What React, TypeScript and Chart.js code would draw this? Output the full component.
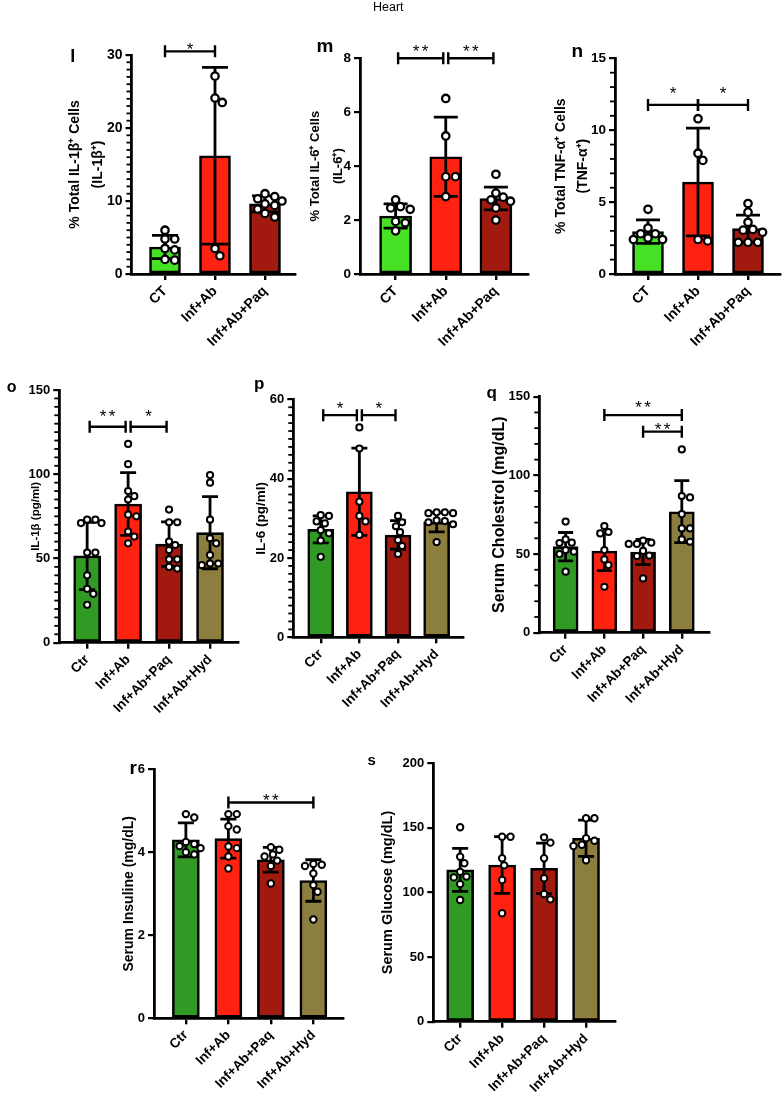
import React, { useEffect, useRef } from "react";
import { Chart, registerables } from "chart.js";

Chart.register(...registerables);

const FONT = '"Liberation Sans", Arial, Helvetica, sans-serif';
Chart.defaults.color = "#000";
Chart.defaults.font.family = FONT;

// Group names
const groupsCT = ["CT", "Inf+Ab", "Inf+Ab+Paq"];
const groupsCtr = ["Ctr", "Inf+Ab", "Inf+Ab+Paq", "Inf+Ab+Hyd"];

// Bar fills
const LIGHT_GREEN = "#47e226";
const GREEN = "#319a25";
const RED = "#ff2211";
const DARK_RED = "#a1190f";
const OLIVE = "#8b7e3f";

// l — % IL-1β+ cells
const il1bCellMean = [3.7, 16.2, 9.6];
const il1bCellSd = [1.6, 12.1, 1.1];
const il1bCellPoints = [
  [6.0, 4.8, 4.8, 3.5, 3.3, 1.9, 2.0],
  [27.1, 23.5, 24.1, 2.5, 3.5],
  [11.0, 10.6, 10.3, 10.0, 9.6, 9.4, 8.9, 8.3, 7.8],
];

// m — % IL-6+ cells
const il6CellMean = [2.15, 4.35, 2.8];
const il6CellSd = [0.45, 1.47, 0.42];
const il6CellPoints = [
  [2.75, 2.45, 2.4, 2.5, 1.95, 1.9, 1.6],
  [6.51, 5.12, 3.61, 3.61, 2.87],
  [3.7, 3.0, 2.85, 2.75, 2.7, 2.45, 2.0],
];

// n — % TNF-α+ cells
const tnfCellMean = [2.95, 6.4, 3.15];
const tnfCellSd = [0.82, 3.75, 0.95];
const tnfCellPoints = [
  [4.5, 3.2, 2.8, 2.8, 2.5, 2.4, 2.4],
  [10.8, 7.9, 8.4, 2.3, 2.4],
  [4.9, 4.3, 3.6, 3.1, 3.05, 2.9, 2.2, 2.2, 2.2],
];

// o — IL-1β (pg/ml)
const il1bMean = [51.5, 82.3, 58.5, 65.3];
const il1bSd = [20, 18.6, 13.2, 21.4];
const il1bPoints = [
  [71, 73, 73, 71, 53.5, 53.5, 40, 32, 29, 22.5],
  [118, 106, 90, 87, 85, 76, 75, 66, 63, 59],
  [79, 71.5, 71.5, 60, 58, 55, 49.5, 49.5, 45, 44],
  [99.5, 95, 73, 62, 59, 52, 47, 47, 46],
];

// p — IL-6 (pg/ml)
const il6Mean = [27.2, 36.7, 25.8, 29.0];
const il6Sd = [3.4, 11, 3.6, 2.4];
const il6Points = [
  [30.8, 30.6, 29.2, 28.7, 27, 26.2, 24.4, 20.3],
  [52.9, 47.6, 34.2, 30.6, 29.2, 25.8],
  [30.6, 29, 28, 26.5, 24.5, 23, 21],
  [31.5, 31.5, 31.3, 31.3, 29.5, 29.3, 29, 28.5, 24],
];

// q — serum cholesterol (mg/dL)
const cholMean = [54.7, 51.9, 51.3, 76.9];
const cholSd = [9, 12.4, 8, 19.7];
const cholPoints = [
  [70.6, 59.3, 57, 57.2, 52.5, 51.5, 50, 38.8],
  [67.8, 64, 63.1, 52.5, 46.6, 43, 29.2],
  [58.5, 57.2, 56.4, 56.4, 52, 49, 48.7, 34.5],
  [116.5, 86.9, 86, 75.4, 66.3, 66.3, 57.8, 59.3],
];

// r — serum insulin (mg/dL)
const insMean = [4.3, 4.33, 3.82, 3.32];
const insSd = [0.41, 0.47, 0.3, 0.5];
const insPoints = [
  [4.92, 4.84, 4.25, 4.2, 4.15, 4.1, 4.0, 3.95],
  [4.92, 4.92, 4.63, 4.55, 4.1, 4.14, 3.9, 3.61],
  [4.12, 4.06, 3.95, 3.9, 3.8, 3.67, 3.25],
  [3.72, 3.7, 3.67, 3.49, 3.21, 3.05, 2.38],
];

// s — serum glucose (mg/dL)
const gluMean = [117.5, 121.3, 118.7, 142];
const gluSd = [16.7, 21.9, 19.5, 14];
const gluPoints = [
  [150.5, 127.7, 122.6, 116, 112.3, 111.7, 106.5, 94.2],
  [143.2, 143.2, 126.5, 121, 109.7, 83.9],
  [142.7, 138.6, 126.5, 111, 98.8, 94.7],
  [157.5, 157.5, 142, 140, 137, 136, 125],
];

type Bracket = { from: number; to: number; at: number; text: string; lift: number; gap?: boolean };

interface PanelSpec {
  box: [number, number, number, number];
  axisX: number;
  topY: number;
  zeroY: number;
  rightX: number;
  xMin: number;
  xMax: number;
  yMax: number;
  major: number;
  minor: number | null;
  cats: string[];
  colors: string[];
  means: number[];
  sds: number[];
  points: number[][];
  brackets: Bracket[];
  title: string[];
  titleSize: number;
  titleX: number;
  titleGap: number;
  tickSize: number;
  labelSize: number;
  barWidth: number;
  capWidth: number;
  dotR: number;
  dotLw: number;
}

const colors3 = [LIGHT_GREEN, RED, DARK_RED];
const colors4 = [GREEN, RED, DARK_RED, OLIVE];

const panels: PanelSpec[] = [
  {
    box: [40, 30, 260, 340], axisX: 131.5, topY: 55, zeroY: 274, rightX: 295,
    xMin: -0.67, xMax: 2.6, yMax: 30, major: 10, minor: 1,
    cats: groupsCT, colors: colors3, means: il1bCellMean, sds: il1bCellSd, points: il1bCellPoints,
    brackets: [{ from: 0, to: 1, at: 30.5, text: "*", lift: 6 }],
    title: ["% Total IL-1β⁺ Cells", "(IL-1β⁺)"], titleSize: 14, titleX: 75, titleGap: 23,
    tickSize: 14, labelSize: 14, barWidth: 31, capWidth: 26, dotR: 3.7, dotLw: 2.3,
  },
  {
    box: [298, 30, 237, 340], axisX: 360, topY: 58.3, zeroY: 274, rightX: 528,
    xMin: -0.71, xMax: 2.64, yMax: 8, major: 2, minor: null,
    cats: groupsCT, colors: colors3, means: il6CellMean, sds: il6CellSd, points: il6CellPoints,
    brackets: [
      { from: 0, to: 1, at: 8, text: "**", lift: 11, gap: true },
      { from: 1, to: 2, at: 8, text: "**", lift: 11, gap: true },
    ],
    title: ["% Total IL-6⁺ Cells", "(IL-6⁺)"], titleSize: 13, titleX: 315.7, titleGap: 23,
    tickSize: 13.5, labelSize: 14, barWidth: 32, capWidth: 24, dotR: 3.7, dotLw: 2.3,
  },
  {
    box: [540, 30, 243, 340], axisX: 615, topY: 58.3, zeroY: 274, rightX: 780,
    xMin: -0.66, xMax: 2.64, yMax: 15, major: 5, minor: 1,
    cats: groupsCT, colors: colors3, means: tnfCellMean, sds: tnfCellSd, points: tnfCellPoints,
    brackets: [
      { from: 0, to: 1, at: 11.76, text: "*", lift: 16 },
      { from: 1, to: 2, at: 11.76, text: "*", lift: 16 },
    ],
    title: ["% Total TNF-α⁺ Cells", "(TNF-α⁺)"], titleSize: 14, titleX: 560.7, titleGap: 22,
    tickSize: 13.5, labelSize: 14, barWidth: 31, capWidth: 24, dotR: 3.7, dotLw: 2.3,
  },
  {
    box: [15, 370, 230, 390], axisX: 59.3, topY: 390, zeroY: 642.7, rightX: 238.3,
    xMin: -0.68, xMax: 3.69, yMax: 150, major: 50, minor: 5,
    cats: groupsCtr, colors: colors4, means: il1bMean, sds: il1bSd, points: il1bPoints,
    brackets: [
      { from: 0, to: 1, at: 128.2, text: "**", lift: 15, gap: true },
      { from: 1, to: 2, at: 128.2, text: "*", lift: 15, gap: true },
    ],
    title: ["IL-1β (pg/ml)"], titleSize: 11.5, titleX: 35.5, titleGap: 14,
    tickSize: 13, labelSize: 13.5, barWidth: 27, capWidth: 16, dotR: 3.1, dotLw: 2,
  },
  {
    box: [245, 370, 225, 390], axisX: 293.3, topY: 399.3, zeroY: 637.3, rightX: 463.3,
    xMin: -0.71, xMax: 3.69, yMax: 60, major: 20, minor: 2,
    cats: groupsCtr, colors: colors4, means: il6Mean, sds: il6Sd, points: il6Points,
    brackets: [
      { from: 0, to: 1, at: 56, text: "*", lift: 11, gap: true },
      { from: 1, to: 2, at: 56, text: "*", lift: 11, gap: true },
    ],
    title: ["IL-6 (pg/ml)"], titleSize: 13.5, titleX: 261.7, titleGap: 16,
    tickSize: 13, labelSize: 13.5, barWidth: 26, capWidth: 16, dotR: 3.1, dotLw: 2,
  },
  {
    box: [475, 370, 245, 390], axisX: 539.3, topY: 396.7, zeroY: 632.7, rightX: 709.3,
    xMin: -0.68, xMax: 3.71, yMax: 150, major: 50, minor: 10,
    cats: groupsCtr, colors: colors4, means: cholMean, sds: cholSd, points: cholPoints,
    brackets: [
      { from: 1, to: 3, at: 138.3, text: "**", lift: 12 },
      { from: 2, to: 3, at: 127.8, text: "**", lift: 6 },
    ],
    title: ["Serum Cholestrol (mg/dL)"], titleSize: 16, titleX: 499.3, titleGap: 19,
    tickSize: 13, labelSize: 13.5, barWidth: 25, capWidth: 15, dotR: 3.1, dotLw: 2,
  },
  {
    box: [100, 740, 250, 360], axisX: 154, topY: 769.3, zeroY: 1018.3, rightX: 342.7,
    xMin: -0.75, xMax: 3.69, yMax: 6, major: 2, minor: null,
    cats: groupsCtr, colors: colors4, means: insMean, sds: insSd, points: insPoints,
    brackets: [{ from: 1, to: 3, at: 5.2, text: "**", lift: 6 }],
    title: ["Serum Insuline (mg/dL)"], titleSize: 14, titleX: 129.3, titleGap: 17,
    tickSize: 13, labelSize: 13.5, barWidth: 27, capWidth: 16, dotR: 3.2, dotLw: 2,
  },
  {
    box: [355, 740, 265, 360], axisX: 433.3, topY: 763.3, zeroY: 1021.7, rightX: 615,
    xMin: -0.64, xMax: 3.69, yMax: 200, major: 50, minor: null,
    cats: groupsCtr, colors: colors4, means: gluMean, sds: gluSd, points: gluPoints,
    brackets: [],
    title: ["Serum Glucose (mg/dL)"], titleSize: 14.5, titleX: 388.3, titleGap: 17.4,
    tickSize: 13, labelSize: 13.5, barWidth: 27, capWidth: 16, dotR: 3.2, dotLw: 2,
  },
];

// Panel letters: [text, x, baseline, size]
const letters: [string, number, number, number][] = [
  ["l", 72.7, 61.7, 18],
  ["m", 325, 51.7, 19],
  ["n", 577.3, 57.3, 19],
  ["o", 11.7, 392.3, 16],
  ["p", 259.3, 389.3, 17],
  ["q", 491.7, 398.3, 17],
  ["r", 133.3, 774.3, 19],
  ["s", 371.7, 765, 15],
];

// Spread the dots of one group sideways so that they do not pile up (beeswarm)
function swarm(vals: number[], toPix: (v: number) => number, d: number): number[] {
  const order = vals.map((_, i) => i).sort((a, b) => vals[b] - vals[a]);
  const placed: { x: number; y: number }[] = [];
  const offs = new Array(vals.length).fill(0);
  const minDist = d * 0.85;
  for (const i of order) {
    const y = toPix(vals[i]);
    let best = 0;
    for (let k = 0; k < 80; k++) {
      const cand = k === 0 ? 0 : (k % 2 ? 1 : -1) * Math.ceil(k / 2) * d * 0.25;
      if (placed.every((p) => Math.hypot(p.x - cand, p.y - y) >= minDist)) {
        best = cand;
        break;
      }
    }
    placed.push({ x: best, y });
    offs[i] = best;
  }
  return offs;
}

function decorPlugin(s: PanelSpec) {
  return {
    id: "decor",
    afterDraw(chart: any) {
      const { ctx, chartArea } = chart;
      const xs = chart.scales.x;
      const ys = chart.scales.y;
      ctx.save();
      ctx.strokeStyle = "#000";
      ctx.lineCap = "butt";

      // minor ticks on the value axis
      if (s.minor) {
        ctx.lineWidth = 1.8;
        for (let k = 1; k * s.minor < s.yMax - 1e-9; k++) {
          const v = k * s.minor;
          const r = v / s.major;
          if (Math.abs(r - Math.round(r)) < 1e-6) continue;
          const y = ys.getPixelForValue(v);
          ctx.beginPath();
          ctx.moveTo(chartArea.left - 1, y);
          ctx.lineTo(chartArea.left - 5, y);
          ctx.stroke();
        }
      }

      // mean ± SD error bars
      ctx.lineWidth = 2.8;
      s.means.forEach((m, i) => {
        const x = xs.getPixelForValue(i);
        const yt = ys.getPixelForValue(m + s.sds[i]);
        const yb = ys.getPixelForValue(Math.max(0, m - s.sds[i]));
        const hw = s.capWidth / 2;
        ctx.beginPath();
        ctx.moveTo(x, yt);
        ctx.lineTo(x, yb);
        ctx.moveTo(x - hw, yt);
        ctx.lineTo(x + hw, yt);
        ctx.moveTo(x - hw, yb);
        ctx.lineTo(x + hw, yb);
        ctx.stroke();
      });

      // individual animals
      const d = 2 * s.dotR + s.dotLw;
      ctx.lineWidth = s.dotLw;
      ctx.fillStyle = "#fff";
      s.points.forEach((vals, i) => {
        const cx = xs.getPixelForValue(i);
        const offs = swarm(vals, (v) => ys.getPixelForValue(v), d);
        vals.forEach((v, j) => {
          ctx.beginPath();
          ctx.arc(cx + offs[j], ys.getPixelForValue(v), s.dotR, 0, Math.PI * 2);
          ctx.fill();
          ctx.stroke();
        });
      });

      // significance brackets
      ctx.lineWidth = 2.4;
      ctx.fillStyle = "#000";
      const fs = 17;
      ctx.font = `${fs}px ${FONT}`;
      ctx.textAlign = "center";
      ctx.textBaseline = "alphabetic";
      for (const b of s.brackets) {
        const g = b.gap ? 2.5 : 0;
        const x1 = xs.getPixelForValue(b.from) + g;
        const x2 = xs.getPixelForValue(b.to) - g;
        const y = ys.getPixelForValue(b.at);
        ctx.beginPath();
        ctx.moveTo(x1, y);
        ctx.lineTo(x2, y);
        ctx.moveTo(x1, y - 6);
        ctx.lineTo(x1, y + 6);
        ctx.moveTo(x2, y - 6);
        ctx.lineTo(x2, y + 6);
        ctx.stroke();
        const chars = b.text.split("");
        const step = 9;
        const mid = (x1 + x2) / 2;
        chars.forEach((c, k) => {
          const cx = mid + (k - (chars.length - 1) / 2) * step;
          ctx.fillText(c, cx, y - b.lift + 0.58 * fs);
        });
      }
      ctx.restore();
    },
  };
}

function Panel({ s }: { s: PanelSpec }) {
  const ref = useRef<HTMLCanvasElement>(null);
  useEffect(() => {
    const [L, T, W, H] = s.box;
    const majors: number[] = [];
    for (let v = 0; v <= s.yMax + 1e-9; v += s.major) majors.push(v);
    const titlePad = s.titleX - L - s.titleGap / 2;
    const chart = new Chart(ref.current as HTMLCanvasElement, {
      type: "bar",
      data: {
        datasets: [
          {
            data: s.means.map((m, i) => ({ x: i, y: m })),
            backgroundColor: s.colors,
            borderColor: "#000",
            borderWidth: 2.6,
            borderSkipped: false,
            barThickness: s.barWidth,
          } as any,
        ],
      },
      options: {
        animation: false,
        responsive: false,
        devicePixelRatio: 1,
        layout: { padding: { left: 0, top: s.topY - T, right: L + W - s.rightX, bottom: 0 } },
        plugins: { legend: { display: false }, tooltip: { enabled: false } },
        scales: {
          x: {
            type: "linear",
            min: s.xMin,
            max: s.xMax,
            offset: false,
            afterBuildTicks: (sc: any) => {
              sc.ticks = s.cats.map((_, i) => ({ value: i }));
            },
            afterFit: (sc: any) => {
              sc.height = T + H - s.zeroY;
            },
            ticks: {
              autoSkip: false,
              minRotation: 45,
              maxRotation: 45,
              padding: 3,
              color: "#000",
              font: { family: FONT, size: s.labelSize, weight: "bold" },
              callback: (_v: any, i: number) => s.cats[i],
            },
            grid: { drawOnChartArea: false, drawTicks: true, tickLength: 6, color: "#000", lineWidth: 2.4, offset: false },
            border: { display: true, color: "#000", width: 2.8 },
          },
          y: {
            type: "linear",
            min: 0,
            max: s.yMax,
            afterBuildTicks: (sc: any) => {
              sc.ticks = majors.map((v) => ({ value: v }));
            },
            afterFit: (sc: any) => {
              sc.width = s.axisX - L;
            },
            ticks: {
              padding: 3,
              color: "#000",
              font: { family: FONT, size: s.tickSize, weight: "bold" },
              callback: (v: any) => String(v),
            },
            grid: { drawOnChartArea: false, drawTicks: true, tickLength: 6, color: "#000", lineWidth: 2.2 },
            border: { display: true, color: "#000", width: 2.8 },
            title: {
              display: true,
              text: s.title,
              color: "#000",
              padding: { top: titlePad, bottom: 0 },
              font: { family: FONT, size: s.titleSize, weight: "bold", lineHeight: s.titleGap / s.titleSize },
            },
          },
        },
      } as any,
      plugins: [decorPlugin(s)],
    });
    return () => chart.destroy();
  }, [s]);
  const [L, T, W, H] = s.box;
  return (
    <canvas
      ref={ref}
      width={W}
      height={H}
      style={{ position: "absolute", left: L, top: T, width: W, height: H }}
    />
  );
}

export default function App() {
  return (
    <div style={{ position: "absolute", left: 0, top: 0, width: 783, height: 1100, background: "#fff", overflow: "hidden" }}>
      {panels.map((p, i) => (
        <Panel key={i} s={p} />
      ))}
      <svg width={783} height={1100} style={{ position: "absolute", left: 0, top: 0, pointerEvents: "none" }}>
        <text x={388.3} y={10.5} textAnchor="middle" fontFamily={FONT} fontSize={12.5} fill="#000">
          Heart
        </text>
        {letters.map(([t, x, y, size]) => (
          <text key={t} x={x} y={y} textAnchor="middle" fontFamily={FONT} fontWeight="bold" fontSize={size} fill="#000">
            {t}
          </text>
        ))}
      </svg>
    </div>
  );
}
